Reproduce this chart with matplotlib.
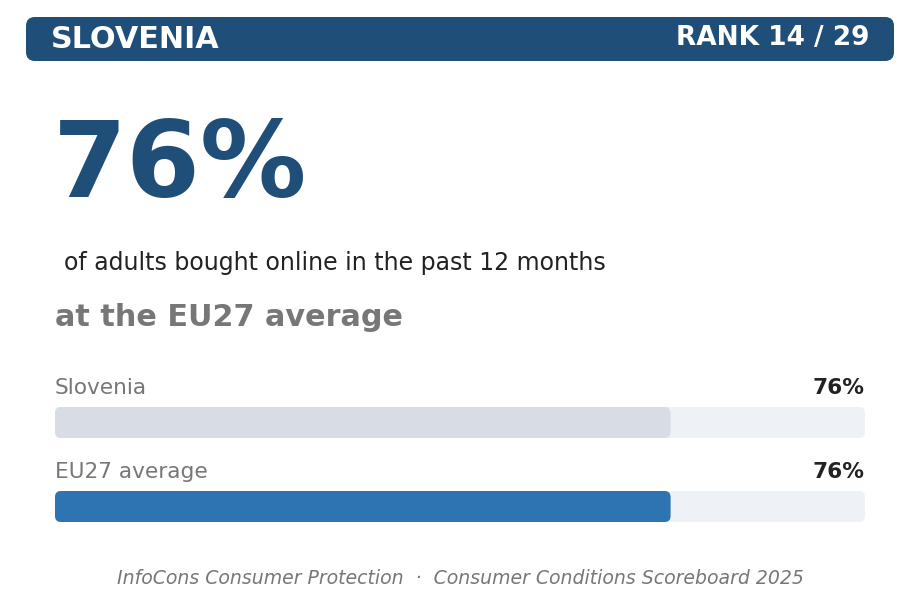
import matplotlib
matplotlib.use("Agg")
import matplotlib.pyplot as plt
from matplotlib.patches import FancyBboxPatch

country = "SLOVENIA"
rank = 14
n_countries = 29
headline_value = 76
subtitle = "of adults bought online in the past 12 months"
verdict = "at the EU27 average"
bar_labels = ["Slovenia", "EU27 average"]
bar_values = [76, 76]
bar_colors = ["#d8dde5", "#2e73b2"]
footer = "InfoCons Consumer Protection  \u00b7  Consumer Conditions Scoreboard 2025"

W, H = 919, 600
fig = plt.figure(figsize=(W / 100, H / 100), dpi=100)
fig.patch.set_facecolor("white")

# canvas axes in pixel coords
ax = fig.add_axes([0, 0, 1, 1])
ax.set_xlim(0, W)
ax.set_ylim(H, 0)
ax.axis("off")

# header band
ax.add_patch(FancyBboxPatch((26, 17), 868, 44, boxstyle="round,pad=0,rounding_size=9",
                            fc="#1f4e79", ec="none"))
ax.text(51, 39, country, color="white", fontsize=21.8, fontweight="bold", va="center", ha="left")
ax.text(869, 38, f"RANK {rank} / {n_countries}", color="white", fontsize=19,
        fontweight="bold", va="center", ha="right")

ax.text(53, 168, f"{headline_value}%", color="#1f4e79", fontsize=76.5, fontweight="bold",
        va="center", ha="left")
ax.text(64, 263, subtitle, color="#222222", fontsize=17, va="center", ha="left")
ax.text(55, 317, verdict, color="#777777", fontsize=21.8, fontweight="bold", va="center", ha="left")

ax.text(460, 578, footer, color="#777777", fontsize=13.6, style="italic", va="center", ha="center")

# bars axes: x in percent
x0, x1 = 55, 865
bax = fig.add_axes([x0 / W, 0, (x1 - x0) / W, 1])
bax.set_xlim(0, 100)
bax.set_ylim(H, 0)
bax.axis("off")

bar_tops = [407, 491]
bar_h = 31
px = 100 / (x1 - x0)  # percent per pixel
r = 6  # corner radius in pixels
for lab, val, col, top in zip(bar_labels, bar_values, bar_colors, bar_tops):
    bax.add_patch(FancyBboxPatch((0, top), 100, bar_h,
                                 boxstyle=f"round,pad=0,rounding_size={r * px}",
                                 mutation_aspect=1 / px, fc="#eef2f6", ec="none"))
    bax.add_patch(FancyBboxPatch((0, top), val, bar_h,
                                 boxstyle=f"round,pad=0,rounding_size={r * px}",
                                 mutation_aspect=1 / px, fc=col, ec="none"))
    bax.text(0, top - 18.5, lab, color="#777777", fontsize=15.6, va="center", ha="left")
    bax.text(100, top - 18.5, f"{val}%", color="#222222", fontsize=15.6, fontweight="bold",
             va="center", ha="right")

fig.savefig("out.png", dpi=100, facecolor="white")
